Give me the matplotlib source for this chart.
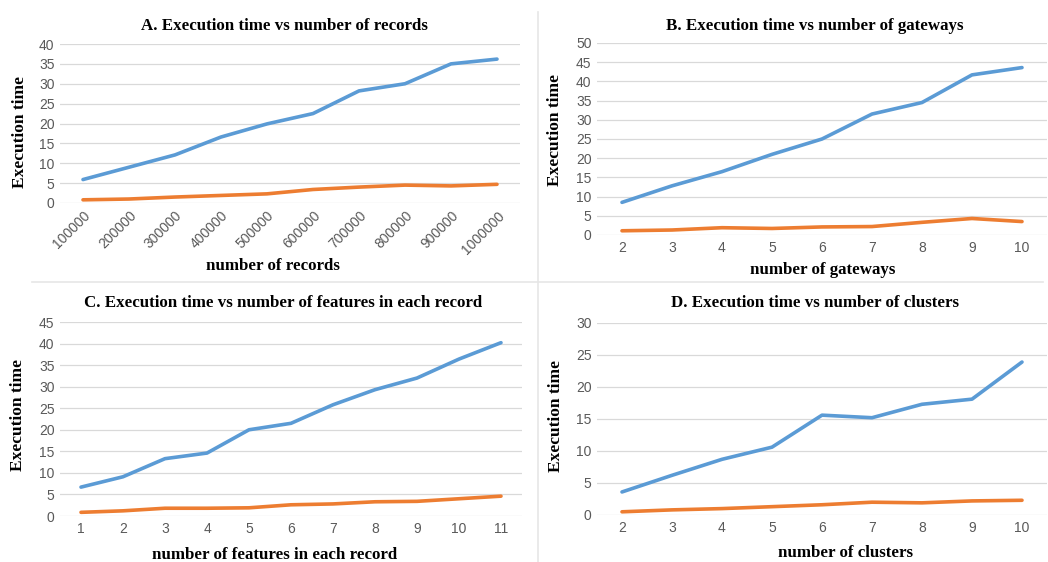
import matplotlib
matplotlib.use("Agg")
import matplotlib.pyplot as plt
from matplotlib.lines import Line2D

# ------------------------------------------------------------
# data
# ------------------------------------------------------------
records = ["100000", "200000", "300000", "400000", "500000",
           "600000", "700000", "800000", "900000", "1000000"]
records_blue = [5.9, 9.0, 12.1, 16.6, 19.9, 22.5, 28.2, 30.0, 35.0, 36.2]
records_orange = [0.8, 1.0, 1.5, 1.9, 2.3, 3.4, 4.0, 4.5, 4.3, 4.7]

gateways = ["2", "3", "4", "5", "6", "7", "8", "9", "10"]
gateways_blue = [8.5, 12.8, 16.5, 21.0, 25.0, 31.5, 34.5, 41.7, 43.6]
gateways_orange = [1.1, 1.3, 1.9, 1.7, 2.1, 2.2, 3.3, 4.3, 3.5]

features = ["1", "2", "3", "4", "5", "6", "7", "8", "9", "10", "11"]
features_blue = [6.7, 9.1, 13.3, 14.6, 20.0, 21.5, 25.8, 29.3, 32.0, 36.4, 40.2]
features_orange = [0.85, 1.2, 1.8, 1.8, 1.9, 2.6, 2.8, 3.3, 3.4, 4.0, 4.6]

clusters = ["2", "3", "4", "5", "6", "7", "8", "9", "10"]
clusters_blue = [3.6, 6.2, 8.7, 10.6, 15.6, 15.2, 17.3, 18.1, 23.9]
clusters_orange = [0.5, 0.8, 1.0, 1.3, 1.6, 2.0, 1.9, 2.2, 2.3]

W, H = 1048, 562
BLUE = "#5B9BD5"
ORANGE = "#ED7D31"
GRID = "#D9D9D9"
TICK = "#595959"
SERIF = "Liberation Serif"
SANS = "Liberation Sans"

fig = plt.figure(figsize=(W / 100, H / 100), dpi=100)


def px(x, y):
    # pixel coords (top-left origin) -> figure fraction
    return x / W, 1 - y / H


def panel(box, cats, blue, orange, ymax, ystep, title, xlabel,
          title_pos, xlabel_pos, ylabel_pos, rotate=False):
    left, top, right, bottom = box
    ax = fig.add_axes([left / W, 1 - bottom / H, (right - left) / W, (bottom - top) / H])
    x = range(len(cats))
    ax.plot(x, blue, color=BLUE, lw=2.6, solid_capstyle="round", zorder=3)
    ax.plot(x, orange, color=ORANGE, lw=2.6, solid_capstyle="round", zorder=3)

    ax.set_xlim(-0.5, len(cats) - 0.5)
    ax.set_ylim(0, ymax)
    ax.set_yticks(range(0, ymax + 1, ystep))
    ax.set_xticks(list(x))
    if rotate:
        ax.set_xticklabels(cats, rotation=45, ha="right", rotation_mode="anchor")
    else:
        ax.set_xticklabels(cats)
    ax.tick_params(length=0, labelsize=10, labelcolor=TICK, pad=4)
    for lab in ax.get_xticklabels() + ax.get_yticklabels():
        lab.set_fontfamily(SANS)
    ax.grid(axis="y", color=GRID, lw=0.9)
    ax.set_axisbelow(True)
    for s in ax.spines.values():
        s.set_visible(False)

    fig.text(*px(*title_pos), title, ha="center", va="center",
             fontsize=12.2, fontweight="bold", family=SERIF)
    fig.text(*px(*xlabel_pos), xlabel, ha="center", va="center",
             fontsize=12.2, fontweight="bold", family=SERIF)
    fig.text(*px(*ylabel_pos), "Execution time", ha="center", va="center",
             rotation=90, fontsize=12.5, fontweight="bold", family=SERIF)
    return ax


panel((60, 44, 520, 203), records, records_blue, records_orange, 40, 5,
      "A. Execution time vs number of records", "number of records",
      (284, 26), (273, 266), (20, 132), rotate=True)
panel((597, 43, 1047, 235), gateways, gateways_blue, gateways_orange, 50, 5,
      "B. Execution time vs number of gateways", "number of gateways",
      (815, 26), (823, 270), (555, 130))
panel((60, 322, 522, 516), features, features_blue, features_orange, 45, 5,
      "C. Execution time vs number of features in each record",
      "number of features in each record",
      (283, 303), (275, 555), (18, 415))
panel((597, 323, 1047, 515), clusters, clusters_blue, clusters_orange, 30, 5,
      "D. Execution time vs number of clusters", "number of clusters",
      (815, 303), (846, 553), (556, 416))

# light divider lines between the four panels
fig.add_artist(Line2D([32 / W, 1043 / W], [1 - 282 / H, 1 - 282 / H],
                      color="#E6E6E6", lw=1.2))
fig.add_artist(Line2D([538 / W, 538 / W], [1 - 12 / H, 0],
                      color="#E6E6E6", lw=1.2))

fig.savefig("out.png", dpi=100, facecolor="white")
